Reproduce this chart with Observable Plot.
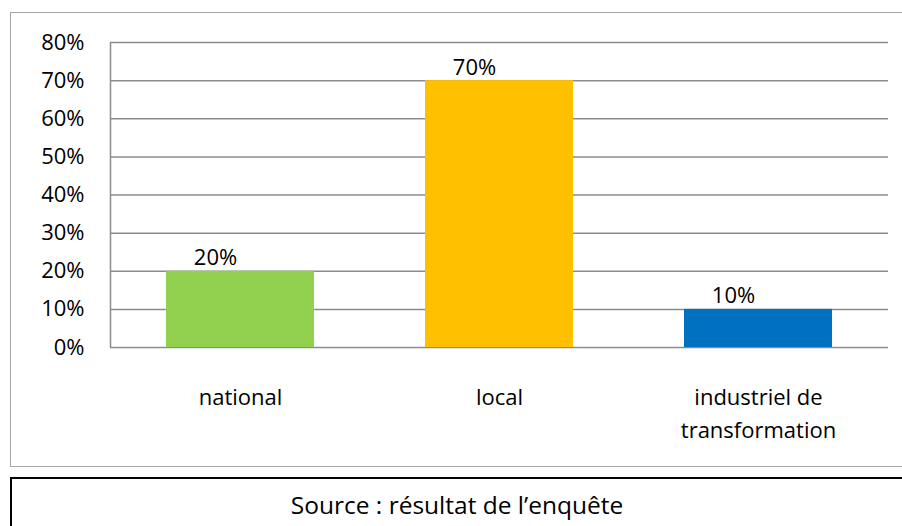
<!DOCTYPE html>
<html><head><meta charset="utf-8">
<script src="https://cdn.jsdelivr.net/npm/d3@7"></script>
<script src="https://cdn.jsdelivr.net/npm/@observablehq/plot@0.6"></script>
<style>
html,body{margin:0;padding:0;background:#fff;}
body{width:902px;height:526px;position:relative;overflow:hidden;font-family:"Open Sans",sans-serif;}
#frame{position:absolute;left:10px;top:12px;width:920px;height:453px;border:1px solid #a6a6a6;}
#chart{position:absolute;left:0;top:0;}
#source{position:absolute;left:10px;top:477px;width:894px;height:80px;border:2px solid #000;box-sizing:border-box;text-align:center;font-size:24.5px;line-height:36px;padding-top:8px;color:#000;}
</style>
</head><body>
<div id="frame"></div>
<div id="chart"></div>
<div id="source">Source : résultat de l’enquête</div>
<script>
const categories = ["national", "local", "industriel de\ntransformation"];
const values = [0.20, 0.70, 0.10];
const colors = ["#92D050", "#FFC000", "#0070C0"];
const yTicks = [0, 0.1, 0.2, 0.3, 0.4, 0.5, 0.6, 0.7, 0.8];

const data = categories.map((c, i) => ({category: c, value: values[i], color: colors[i]}));
const pct = d3.format(".0%");

const plot = Plot.plot({
  width: 902,
  height: 470,
  marginLeft: 110,
  marginRight: 14,
  marginTop: 42,
  marginBottom: 123,
  style: {fontFamily: "Open Sans", fontSize: "22px", color: "#000", background: "transparent", overflow: "visible"},
  x: {domain: categories, paddingInner: 0.43, paddingOuter: 0.215, axis: null},
  y: {domain: [0, 0.8], axis: null},
  marks: [
    Plot.ruleY(yTicks, {stroke: "#8c8c8c", strokeWidth: 1.5}),
    Plot.frame({stroke: "#8c8c8c", strokeWidth: 1.5, strokeDasharray: "0,1861,305,0"}),
    Plot.barY(data, {x: "category", y: "value", fill: "color"}),
    Plot.text(data, {x: "category", y: "value", text: d => pct(d.value), lineAnchor: "bottom", dx: -25, dy: -6, fill: "#000", fontSize: 22}),
    Plot.axisY({ticks: yTicks, tickFormat: pct, tickSize: 0, tickPadding: 26, fontSize: 22, fill: "#000", label: null}),
    Plot.axisX({tickSize: 0, tickPadding: 34, fontSize: 22, lineHeight: 1.5, fill: "#000", label: null})
  ]
});
document.getElementById("chart").appendChild(plot);
</script>
</body></html>
